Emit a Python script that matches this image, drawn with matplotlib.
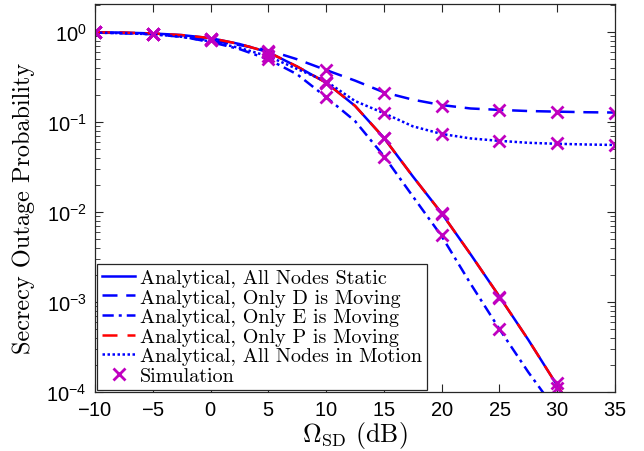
import matplotlib
matplotlib.use("Agg")
import matplotlib.pyplot as plt
from matplotlib.ticker import LogLocator, NullFormatter, FixedLocator

plt.rcParams['font.family'] = ['cmr10', 'DejaVu Serif']
plt.rcParams['mathtext.fontset'] = 'cm'
plt.rcParams['axes.unicode_minus'] = False
plt.rcParams['axes.formatter.use_mathtext'] = True

# Omega_SD grid (dB) for the analytical curves
snr = [-10, -7.5, -5, -2.5, 0, 2.5, 5, 7.5, 10, 12.5, 15, 17.5,
       20, 22.5, 25, 27.5, 30, 32.5, 35]

# Analytical secrecy outage probability
static = [1.0, 0.99, 0.97, 0.93, 0.86, 0.74, 0.60, 0.415, 0.275, 0.152,
          0.067, 0.025, 0.0097, 0.0034, 0.00115, 0.00038, 0.000118,
          0.000037, 0.0000118]
only_d = [0.99, 0.98, 0.96, 0.90, 0.81, 0.72, 0.63, 0.50, 0.38, 0.29,
          0.215, 0.178, 0.155, 0.142, 0.137, 0.133, 0.131, 0.129, 0.128]
only_e = [0.99, 0.975, 0.95, 0.89, 0.78, 0.65, 0.50, 0.34, 0.19, 0.103,
          0.042, 0.015, 0.0054, 0.0016, 0.0005, 0.000166, 0.00006,
          0.000019, 0.000006]
only_p = [1.0, 0.99, 0.97, 0.93, 0.86, 0.74, 0.60, 0.415, 0.275, 0.152,
          0.067, 0.025, 0.0097, 0.0034, 0.00115, 0.00038, 0.000118,
          0.000037, 0.0000118]
all_motion = [0.99, 0.975, 0.95, 0.89, 0.79, 0.67, 0.54, 0.39, 0.285, 0.172,
              0.126, 0.090, 0.074, 0.066, 0.062, 0.059, 0.0575, 0.0565,
              0.0558]

# Monte-Carlo simulation points
sim_snr = [-10, -5, 0, 5, 10, 15, 20, 25, 30, 35]
sim_static = [1.0, 0.96, 0.84, 0.60, 0.27, 0.066, 0.0097, 0.00115, 0.000125]
sim_d = [1.0, 0.96, 0.84, 0.62, 0.38, 0.21, 0.152, 0.136, 0.131, 0.128]
sim_e = [1.0, 0.95, 0.82, 0.51, 0.19, 0.041, 0.0056, 0.0005]
sim_p = [1.0, 0.96, 0.84, 0.60, 0.28, 0.067, 0.0095, 0.0011, 0.000111]
sim_all = [1.0, 0.95, 0.82, 0.55, 0.27, 0.125, 0.073, 0.062, 0.058, 0.0555]

labels = ['Analytical, All Nodes Static',
          'Analytical, Only D is Moving',
          'Analytical, Only E is Moving',
          'Analytical, Only P is Moving',
          'Analytical, All Nodes in Motion',
          'Simulation']
xticks = [-10, -5, 0, 5, 10, 15, 20, 25, 30, 35]

fig = plt.figure(figsize=(6.44, 4.52), dpi=100)
ax = fig.add_axes([0.1475, 0.1305, 0.8075, 0.858])

lw = 1.8
h1, = ax.semilogy(snr, static, '-', color='#0000ff', lw=lw)
h2, = ax.semilogy(snr, only_d, '--', color='#0000ff', lw=lw, dashes=(6, 3.5))
h3, = ax.semilogy(snr, only_e, '-.', color='#0000ff', lw=lw, dashes=(4.5, 2, 1.2, 2))
h4, = ax.semilogy(snr, only_p, '--', color='#ff0000', lw=lw, dashes=(6, 4))
h5, = ax.semilogy(snr, all_motion, ':', color='#0000ff', lw=lw, dashes=(1, 1))

mk = dict(linestyle='none', marker='x', color='#c000c0', ms=9, mew=2, clip_on=True)
h6, = ax.semilogy(sim_snr[:len(sim_static)], sim_static, **mk)
ax.semilogy(sim_snr[:len(sim_d)], sim_d, **mk)
ax.semilogy(sim_snr[:len(sim_e)], sim_e, **mk)
ax.semilogy(sim_snr[:len(sim_p)], sim_p, **mk)
ax.semilogy(sim_snr[:len(sim_all)], sim_all, **mk)

ax.set_xlim(-10, 35)
ax.set_ylim(1e-4, 2.05)
ax.xaxis.set_major_locator(FixedLocator(xticks))
ax.yaxis.set_major_locator(LogLocator(base=10, numticks=10))
ax.yaxis.set_minor_locator(LogLocator(base=10, subs=range(2, 10), numticks=50))
ax.yaxis.set_minor_formatter(NullFormatter())

ax.tick_params(which='both', direction='in', top=True, right=True,
               labelfontfamily='Liberation Sans', labelsize=14.5, pad=6,
               color='#262626')
ax.tick_params(which='major', length=6, width=0.8)
ax.tick_params(which='minor', length=3.5, width=0.6)
for s in ax.spines.values():
    s.set_linewidth(0.9)
    s.set_color('#262626')

ax.set_xlabel(r'$\Omega_{\rm SD}$ (dB)', fontsize=18.5, labelpad=0)
ax.set_ylabel('Secrecy Outage Probability', fontsize=17.5)
ax.yaxis.set_label_coords(-0.115, 0.475)

leg = ax.legend([h1, h2, h3, h4, h5, h6], labels, loc='lower left',
                fontsize=14.5, borderaxespad=0.12, handlelength=1.6,
                handletextpad=0.25, labelspacing=0.07, borderpad=0.25,
                fancybox=False, framealpha=1, edgecolor='#262626')
leg.get_frame().set_linewidth(0.9)

fig.savefig('out.png', dpi=100)
